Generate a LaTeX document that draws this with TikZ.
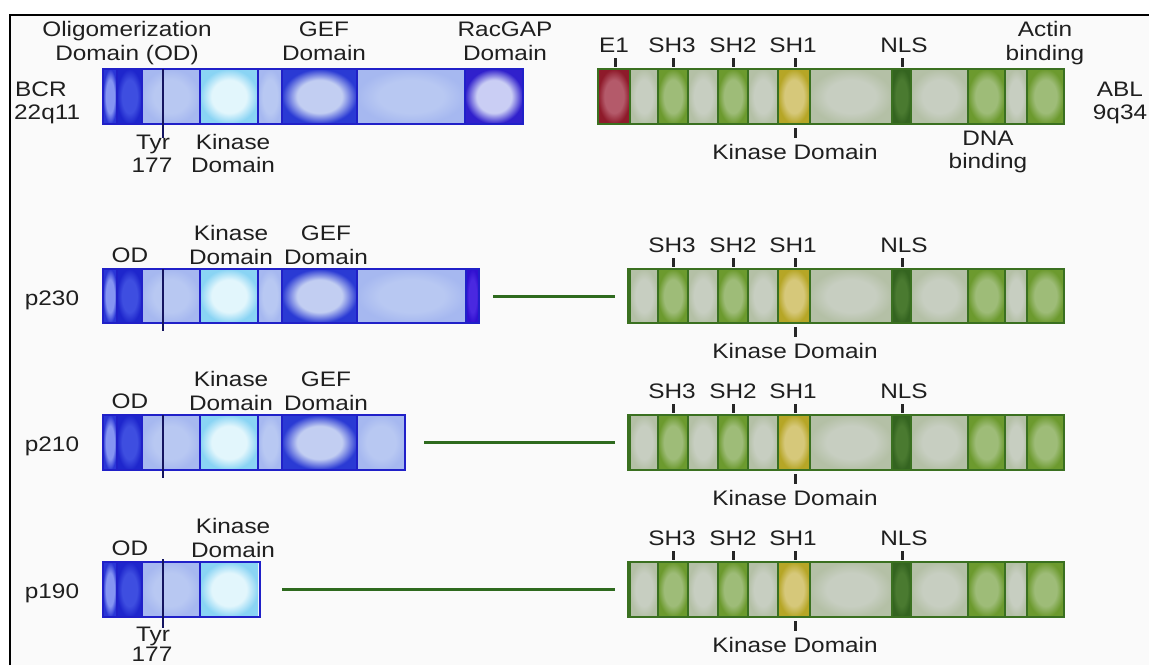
\documentclass[tikz,border=0pt]{standalone}
\usepackage{fontspec}
\setmainfont{Liberation Sans}[FakeStretch=1.16]
\definecolor{bcrb}{HTML}{2020C8}
\definecolor{ablb}{HTML}{3A7020}
\definecolor{linkc}{HTML}{2E6A1E}
\definecolor{tyrc}{HTML}{141460}
\definecolor{cin}{HTML}{FFFFFF}
\definecolor{cout}{HTML}{000000}
% BCR colours
\definecolor{bThinI}{HTML}{8595F2}\definecolor{bThinO}{HTML}{2A36D6}
\definecolor{bDarkI}{HTML}{3E4EE0}\definecolor{bDarkO}{HTML}{1E26CC}
\definecolor{bLiteI}{HTML}{B8C8F2}\definecolor{bLiteO}{HTML}{A6B8F0}
\definecolor{bKinI}{HTML}{E2F6FC}\definecolor{bKinO}{HTML}{8AD4F4}
\definecolor{bGefI}{HTML}{C2CEF2}\definecolor{bGefO}{HTML}{2A3AD4}
\definecolor{bRacI}{HTML}{CACEF4}\definecolor{bRacO}{HTML}{3020CC}
\definecolor{bEndI}{HTML}{4A28E0}\definecolor{bEndO}{HTML}{3010D0}
% ABL colours
\definecolor{aLiteI}{HTML}{C7CEC1}\definecolor{aLiteO}{HTML}{B4C0A6}
\definecolor{aFirstO}{HTML}{6E9444}
\definecolor{aGrnI}{HTML}{9EBC78}\definecolor{aGrnO}{HTML}{6C9A2E}
\definecolor{aYelI}{HTML}{D6C87A}\definecolor{aYelO}{HTML}{B6A626}
\definecolor{aRedI}{HTML}{B45A6A}\definecolor{aRedO}{HTML}{8E1A2A}
\definecolor{aNlsI}{HTML}{4A7A30}\definecolor{aNlsO}{HTML}{346420}
\pgfdeclareradialshading[cin,cout]{glow}{\pgfpoint{0bp}{0bp}}{color(0bp)=(cin); color(15bp)=(cin); color(25bp)=(cout); color(50bp)=(cout)}
\newcommand\cell[6]{\begingroup\colorlet{cin}{#5}\colorlet{cout}{#6}\shade[shading=glow] (#1,#3) rectangle (#2,#4);\endgroup}
\newcommand\cellrow[3]{\foreach \xa/\xb/\ci/\co in {#3} {\cell{\xa}{\xb}{#1}{#2}{\ci}{\co}}}
\newcommand\ablbar[4]{% #1 name, #2 top, #3 bottom, #4 first cell spec
  \cellrow{#2}{#3}{#4,630/658/aLiteI/aLiteO,658/688/aGrnI/aGrnO,688/718/aLiteI/aLiteO,718/748/aGrnI/aGrnO,748/778/aLiteI/aLiteO,778/810/aYelI/aYelO,810/892/aLiteI/aLiteO,892/911/aNlsI/aNlsO,911/968/aLiteI/aLiteO,968/1005/aGrnI/aGrnO,1005/1027/aLiteI/aLiteO,1027/1064/aGrnI/aGrnO}
  \foreach \d in {630,658,688,718,748,778,810,892,911,968,1005,1027} {\draw[ablline] (\d,#2) -- (\d,#3);}
  \draw[tick] (673,#2-11) -- (673,#2-2);
  \draw[tick] (733,#2-11) -- (733,#2-2);
  \draw[tick] (795,#2-11) -- (795,#2-2);
  \draw[tick] (902,#2-11) -- (902,#2-2);
  \draw[tick] (795,#3+4) -- (795,#3+14);
  \node[lbl] (sh3#1) at (672,#2-17) {SH3};
  \node[lbl] (sh2#1) at (733,#2-17) {SH2};
  \node[lbl] (sh1#1) at (793,#2-17) {SH1};
  \node[lbl] (nls#1) at (904,#2-17) {NLS};
  \node[lbl] (kd#1) at (795,#3+35) {Kinase Domain};
}
\newcommand\bcrfront[2]{\cellrow{#1}{#2}{103/117/bThinI/bThinO,117/142/bDarkI/bDarkO,142/200/bLiteI/bLiteO,200/258/bKinI/bKinO}}
\tikzset{
  lbl/.style={font=\fontsize{21}{24}\selectfont, inner sep=0pt, anchor=base, text=black!88},
  tick/.style={line width=3pt, draw=black!85},
  bcrline/.style={draw=bcrb, line width=1.8pt},
  ablline/.style={draw=ablb, line width=1.6pt},
  link/.style={line width=3pt, draw=linkc},
  tyr/.style={line width=2.4pt, draw=tyrc}
}
\begin{document}
\begin{tikzpicture}[x=1pt,y=-1pt]
\useasboundingbox (0,0) rectangle (1149,665);
\fill[white] (0,0) rectangle (1149,665);
\fill[black!2] (10,15) rectangle (1149,665);
\draw[line width=1.5pt] (10,665) -- (10,15) -- (1149,15);

% ================= Row 1: BCR =================
\bcrfront{69}{124}
\cellrow{69}{124}{258/282/bLiteI/bLiteO,282/357/bGefI/bGefO,357/465/bLiteI/bLiteO,465/523/bRacI/bRacO}
\foreach \d in {117,142,200,258,282,357,465} {\draw[bcrline] (\d,69) -- (\d,124);}
\draw[bcrline] (103,69) rectangle (523,124);
\draw[tyr] (163,69) -- (163,138);
\node[lbl] (olig) at (127,36) {Oligomerization};
\node[lbl] (odlong) at (127,60) {Domain (OD)};
\node[lbl] (gef1) at (324,36) {GEF};
\node[lbl] (gef1b) at (324,60) {Domain};
\node[lbl] (rac1) at (505,36) {RacGAP};
\node[lbl] (rac1b) at (505,60) {Domain};
\node[lbl,anchor=base west] (bcr) at (15,96) {BCR};
\node[lbl,anchor=base west] (chr22) at (14,119) {22q11};
\node[lbl] (tyr1) at (153,149) {Tyr};
\node[lbl] (tyr1b) at (152,172) {177};
\node[lbl] (kin1) at (233,149) {Kinase};
\node[lbl] (kin1b) at (233,172) {Domain};

% ABL full
\ablbar{r1}{69}{124}{598/630/aRedI/aRedO}
\draw[ablline] (598,69) rectangle (1064,124);
\draw[tick] (615,58) -- (615,67);
\node[lbl] (e1) at (614,52) {E1};
\node[lbl] (act) at (1045,36) {Actin};
\node[lbl] (actb) at (1045,60) {binding};
\node[lbl] (dna) at (988,145) {DNA};
\node[lbl] (dnab) at (988,168) {binding};
\node[lbl] (abl) at (1120,96) {ABL};
\node[lbl] (chr9) at (1120,119) {9q34};

% ================= p230 =================
\bcrfront{269}{323}
\cellrow{269}{323}{258/282/bLiteI/bLiteO,282/357/bGefI/bGefO,357/466/bLiteI/bLiteO,466/479/bEndI/bEndO}
\foreach \d in {117,142,200,258,282,357,466} {\draw[bcrline] (\d,269) -- (\d,323);}
\draw[bcrline] (103,269) rectangle (479,323);
\draw[tyr] (163,269) -- (163,331);
\node[lbl] (od230) at (130,262) {OD};
\node[lbl] (kin230) at (231,240) {Kinase};
\node[lbl] (kin230b) at (231,264) {Domain};
\node[lbl] (gef230) at (326,240) {GEF};
\node[lbl] (gef230b) at (326,264) {Domain};
\node[lbl] (p230) at (52,305) {p230};
\coordinate (l230a) at (493,296);
\coordinate (l230b) at (615,296);
\draw[link] (l230a) -- (l230b);
\ablbar{p230}{269}{323}{628/658/aLiteI/aFirstO}
\draw[ablline] (628,269) rectangle (1064,323);

% ================= p210 =================
\bcrfront{415}{470}
\cellrow{415}{470}{258/282/bLiteI/bLiteO,282/357/bGefI/bGefO,357/405/bLiteI/bLiteO}
\foreach \d in {117,142,200,258,282,357} {\draw[bcrline] (\d,415) -- (\d,470);}
\draw[bcrline] (103,415) rectangle (405,470);
\draw[tyr] (163,415) -- (163,478);
\node[lbl] (od210) at (130,408) {OD};
\node[lbl] (kin210) at (231,386) {Kinase};
\node[lbl] (kin210b) at (231,410) {Domain};
\node[lbl] (gef210) at (326,386) {GEF};
\node[lbl] (gef210b) at (326,410) {Domain};
\node[lbl] (p210) at (52,451) {p210};
\coordinate (l210a) at (424,442);
\coordinate (l210b) at (615,442);
\draw[link] (l210a) -- (l210b);
\ablbar{p210}{415}{470}{628/658/aLiteI/aFirstO}
\draw[ablline] (628,415) rectangle (1064,470);

% ================= p190 =================
\bcrfront{562}{617}
\foreach \d in {117,142,200} {\draw[bcrline] (\d,562) -- (\d,617);}
\draw[bcrline] (103,562) rectangle (260,617);
\draw[tyr] (163,559) -- (163,628);
\node[lbl] (od190) at (130,555) {OD};
\node[lbl] (kin190) at (233,533) {Kinase};
\node[lbl] (kin190b) at (233,557) {Domain};
\node[lbl] (p190) at (52,598) {p190};
\node[lbl] (tyr190) at (153,641) {Tyr};
\node[lbl] (tyr190b) at (152,661) {177};
\coordinate (l190a) at (282,589);
\coordinate (l190b) at (615,589);
\draw[link] (l190a) -- (l190b);
\ablbar{p190}{562}{617}{628/658/aLiteI/aFirstO}
\draw[ablline] (628,562) rectangle (1064,617);
\end{tikzpicture}
\end{document}
